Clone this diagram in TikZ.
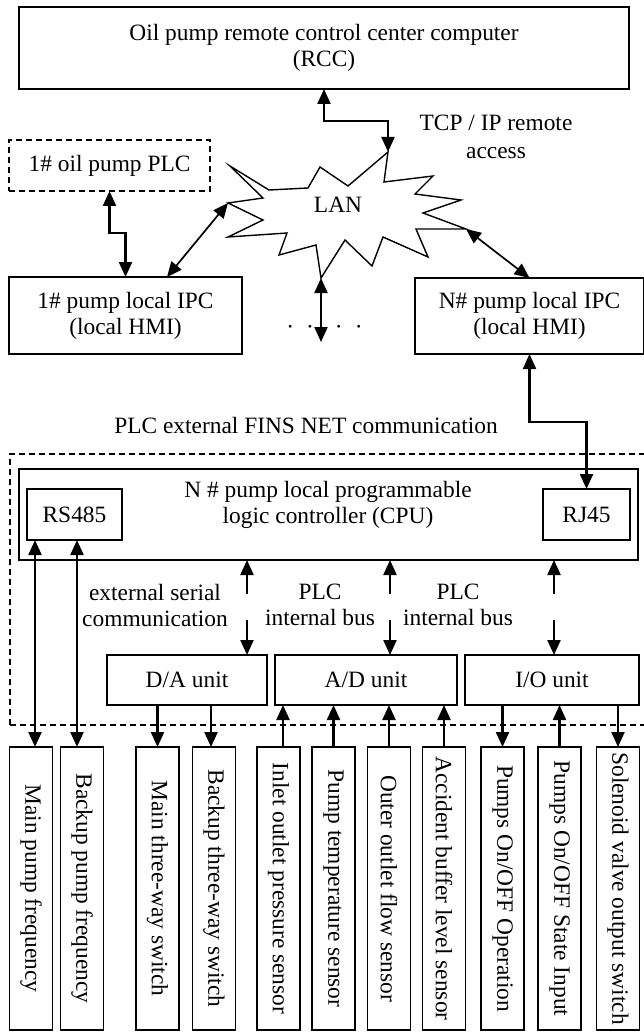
\documentclass[tikz,border=0pt]{standalone}
\usepackage{fontspec}
\setmainfont{Liberation Serif}
\usetikzlibrary{arrows.meta,calc}
\begin{document}
\begin{tikzpicture}[x=1pt,y=-1pt,
  font=\fontsize{23.4pt}{26pt}\selectfont,
  >={Triangle[length=15pt,width=13pt]},
  box/.style={draw,line width=1.3pt,inner sep=0pt,outer sep=0pt,align=center},
  dbox/.style={box,dash pattern=on 6pt off 4pt},
  arr/.style={line width=2.2pt},
  thinarr/.style={line width=1.7pt},
  busarr/.style={line width=2.2pt,dash pattern=on 20pt off 26pt},
  txt/.style={inner sep=0pt,align=center},
  bbox/.style={box,minimum width=43pt,minimum height=283pt}]
\useasboundingbox (0,0) rectangle (644,1032);

% top part
\node[box,minimum width=610pt,minimum height=82pt] (rcc) at (324,48) {Oil pump remote control center computer\\(RCC)};
\node[dbox,minimum width=201pt,minimum height=51pt] (plc1) at (109.5,165.5) {1\# oil pump PLC};
\node[box,minimum width=233pt,minimum height=77pt] (ipc1) at (125.5,315.5) {1\# pump local IPC\\(local HMI)};
\node[box,minimum width=229pt,minimum height=76pt] (ipcN) at (529.5,316) {N\# pump local IPC\\(local HMI)};

% LAN star
\coordinate (lanT) at (388,152);
\coordinate (lanR) at (466,229);
\coordinate (lanB) at (321,278);
\coordinate (lanL) at (228,203);
\coordinate (lanend) at (321,342);
\draw[line width=1.4pt,line join=miter] (lanT) -- (384,182) -- (433,176) -- (415,194) -- (461,200) -- (423,213) -- (lanR)
  -- (416,229) -- (428,257) -- (383,237) -- (372,266) -- (345,240) -- (lanB) -- (316,245) -- (279,255)
  -- (287,233) -- (228,237) -- (263,220) -- (lanL) -- (263,198) -- (230,166) -- (269,190) -- (308,188)
  -- (320,167) -- (348,186) -- cycle;
\node[txt] (lan) at (338,205) {LAN};
\node[txt] (tcp) at (496,137) {TCP / IP remote\\[2pt]access};
\node[txt] (dots) at (324.5,330) {·\hspace{12pt}·\hspace{21pt}·\hspace{12pt}·};
\node[txt] (fins) at (306,425) {PLC external FINS NET communication};

% PLC group
\node[dbox,minimum width=642pt,minimum height=271pt] (grp) at (331,589.5) {};
\node[box,minimum width=619pt,minimum height=91pt] (cpu) at (328.5,514.5) {};
\node[txt] (cputext) at (328,505) {N \# pump local programmable\\logic controller (CPU)};
\node[box,minimum width=95pt,minimum height=51pt] (rs485) at (74.5,514.5) {RS485};
\node[box,minimum width=87pt,minimum height=51pt] (rj45) at (586.5,514.5) {RJ45};
\node[box,minimum width=160pt,minimum height=50pt] (da) at (187,680) {D/A unit};
\node[box,minimum width=182pt,minimum height=50pt] (ad) at (366,680) {A/D unit};
\node[box,minimum width=174pt,minimum height=50pt] (io) at (552,680) {I/O unit};
\node[txt] (ser) at (155,605) {external serial\\communication};
\node[txt] (bus1) at (320,605) {PLC\\internal bus};
\node[txt] (bus2) at (458,605) {PLC\\internal bus};

% bottom boxes
\node[bbox] (b1) at (31,888.5) {\rotatebox{-90}{Main pump frequency}};
\node[bbox] (b2) at (82,888.5) {\rotatebox{-90}{Backup pump frequency}};
\node[bbox] (b3) at (157.5,888.5) {\rotatebox{-90}{Main three-way switch}};
\node[bbox] (b4) at (214,888.5) {\rotatebox{-90}{Backup three-way switch}};
\node[bbox] (b5) at (278.5,888.5) {\rotatebox{-90}{Inlet outlet pressure sensor}};
\node[bbox] (b6) at (333.5,888.5) {\rotatebox{-90}{Pump temperature sensor}};
\node[bbox] (b7) at (389,888.5) {\rotatebox{-90}{Outer outlet flow sensor}};
\node[bbox] (b8) at (444,888.5) {\rotatebox{-90}{Accident buffer level sensor}};
\node[bbox] (b9) at (502.5,888.5) {\rotatebox{-90}{Pumps On/OFF Operation}};
\node[bbox] (b10) at (559.5,888.5) {\rotatebox{-90}{Pumps On/OFF State Input}};
\node[bbox] (b11) at (618,888.5) {\rotatebox{-90}{Solenoid valve output switch}};

% connectors top
\draw[arr,<->] (rcc.south) -- ++(0,32) -| (lanT);
\draw[arr,<->] (plc1.south) -- ++(0,42) -| (ipc1.north);
\draw[thinarr,<->] ([xshift=41.5pt]ipc1.north) -- (lanL);
\draw[thinarr,<->] (lanR) -- (ipcN.north);
\draw[arr,<->] (lanB) -- (lanend);
\draw[arr,<->] (ipcN.south) -- ++(0,68) -| (rj45.north);

% bus arrows
\coordinate (q1) at ([xshift=60pt]da.north);
\coordinate (q2) at ([xshift=24pt]ad.north);
\coordinate (q3) at ([xshift=2pt]io.north);
\draw[busarr,<->] (q1 |- cpu.south) -- (q1);
\draw[busarr,<->] (q2 |- cpu.south) -- (q2);
\draw[busarr,<->] (q3 |- cpu.south) -- (q3);

% bottom connectors
\coordinate (p1) at ([xshift=4pt]b1.north);
\coordinate (p2) at ([xshift=-5pt]b2.north);
\coordinate (p4) at ([xshift=-3pt]b4.north);
\coordinate (p5) at ([xshift=4.5pt]b5.north);
\draw[arr,<->] (p1 |- rs485.south) -- (p1);
\draw[arr,<->] (p2 |- rs485.south) -- (p2);
\draw[arr,->] (b3.north |- da.south) -- (b3.north);
\draw[arr,->] (p4 |- da.south) -- (p4);
\draw[arr,->] (p5) -- (p5 |- ad.south);
\draw[arr,->] (b6.north) -- (b6.north |- ad.south);
\draw[arr,->] (b7.north) -- (b7.north |- ad.south);
\draw[arr,->] (b8.north) -- (b8.north |- ad.south);
\draw[arr,->] (b9.north |- io.south) -- (b9.north);
\draw[arr,->] (b10.north) -- (b10.north |- io.south);
\draw[arr,->] (b11.north |- io.south) -- (b11.north);
\end{tikzpicture}
\end{document}
